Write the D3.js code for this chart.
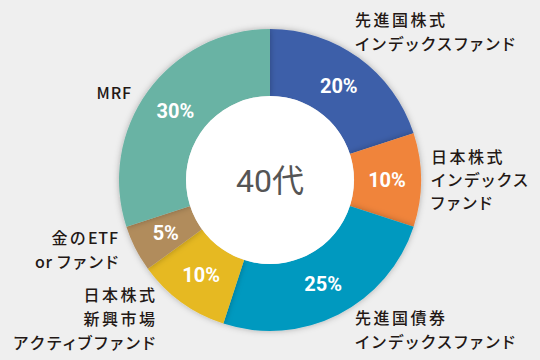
<!DOCTYPE html>
<html><head><meta charset="utf-8">
<script src="https://cdn.jsdelivr.net/npm/d3@7"></script>
<style>
html,body{margin:0;padding:0;background:#efefef;}
svg{display:block;}
</style></head>
<body>
<svg id="chart" width="540" height="360"></svg>
<script>
const categories = ["先進国株式インデックスファンド","日本株式インデックスファンド","先進国債券インデックスファンド","日本株式新興市場アクティブファンド","金のETF or ファンド","MRF"];
const values = [20, 10, 25, 10, 5, 30];
const colors = ["#3c5fa9", "#f0843a", "#0099bf", "#e6b921", "#b18c5c", "#69b3a4"];
const labelLines = [
  ["先進国株式","インデックスファンド"],
  ["日本株式","インデックス","ファンド"],
  ["先進国債券","インデックスファンド"],
  ["日本株式","新興市場","アクティブファンド"],
  ["金のETF","or ファンド"],
  ["MRF"]
];
const centerTitle = "40代";

const W = 540, H = 360, cx = 270, cy = 180, rOuter = 151, rInner = 84;
const svg = d3.select("#chart");
svg.append("rect").attr("width", W).attr("height", H).attr("fill", "#efefef");

const defs = svg.append("defs");
const f = defs.append("filter").attr("id","sh").attr("x","-20%").attr("y","-20%").attr("width","140%").attr("height","140%");
f.append("feDropShadow").attr("dx",0).attr("dy",0).attr("stdDeviation",3).attr("flood-color","#000").attr("flood-opacity",0.28);

const pie = d3.pie().sort(null).value(d => d)(values);
const arc = d3.arc().innerRadius(rInner).outerRadius(rOuter);
const labelArc = d3.arc().innerRadius(117).outerRadius(117);

const g = svg.append("g").attr("transform", `translate(${cx},${cy})`);
g.selectAll("path.slice").data(pie).join("path")
  .attr("class","slice")
  .attr("d", arc)
  .attr("fill", (d,i) => colors[i])
  .attr("filter","url(#sh)");

g.append("circle").attr("r", rInner).attr("fill", "#ffffff");

g.selectAll("text.pct").data(pie).join("text")
  .attr("class","pct")
  .attr("transform", d => `translate(${labelArc.centroid(d)})`)
  .attr("text-anchor","middle")
  .attr("dy","0.36em")
  .attr("fill","#ffffff")
  .style("font-family","Roboto, 'Noto Sans', sans-serif")
  .style("font-weight","700")
  .style("font-size","20px")
  .text(d => d.data + "%");

g.append("text")
  .attr("text-anchor","middle")
  .attr("dy","0.36em")
  .attr("fill","#555555")
  .style("font-family","Roboto, 'Noto Sans CJK JP', sans-serif")
  .style("font-weight","400")
  .style("font-size","32px")
  .text(centerTitle);

const labelPos = [
  {x:355, y:20, anchor:"start", lh:24.5},
  {x:431, y:157, anchor:"start", lh:23},
  {x:355, y:318, anchor:"start", lh:24.5},
  {x:155, y:295, anchor:"end", lh:24},
  {x:118, y:238, anchor:"end", lh:24},
  {x:131, y:93, anchor:"end", lh:24}
];
const ls = 2.5;
const lab = svg.append("g").attr("class","labels");
labelLines.forEach((lines, i) => {
  const p = labelPos[i];
  lines.forEach((ln, j) => {
    const t = lab.append("text")
      .attr("text-anchor", p.anchor)
      .attr("x", p.x)
      .attr("y", p.y + j*p.lh)
      .attr("dy","0.36em")
      .attr("fill","#231815")
      .style("font-family","'Noto Sans CJK JP', 'Noto Sans', sans-serif")
      .style("font-weight","500")
      .style("font-size","16px")
      .style("font-feature-settings","'palt' 1");
    const runs = ln.match(/[\x20-\x7e]+|[^\x20-\x7e]+/g);
    runs.forEach((r, k) => {
      const ascii = /^[\x20-\x7e]+$/.test(r);
      const isLast = k === runs.length - 1;
      const tsp = t.append("tspan").text(r);
      tsp.style("letter-spacing", ascii ? "0.8px" : ls + "px");
      if (isLast && p.anchor === "end") {
        // compensate trailing spacing on right-aligned lines
        tsp.style("letter-spacing", ascii ? "0.8px" : ls + "px");
      }
    });
    if (p.anchor === "end") {
      t.attr("x", p.x + (/[\x20-\x7e]$/.test(ln) ? 0.8 : ls));
    }
  });
});
</script>
</body></html>
